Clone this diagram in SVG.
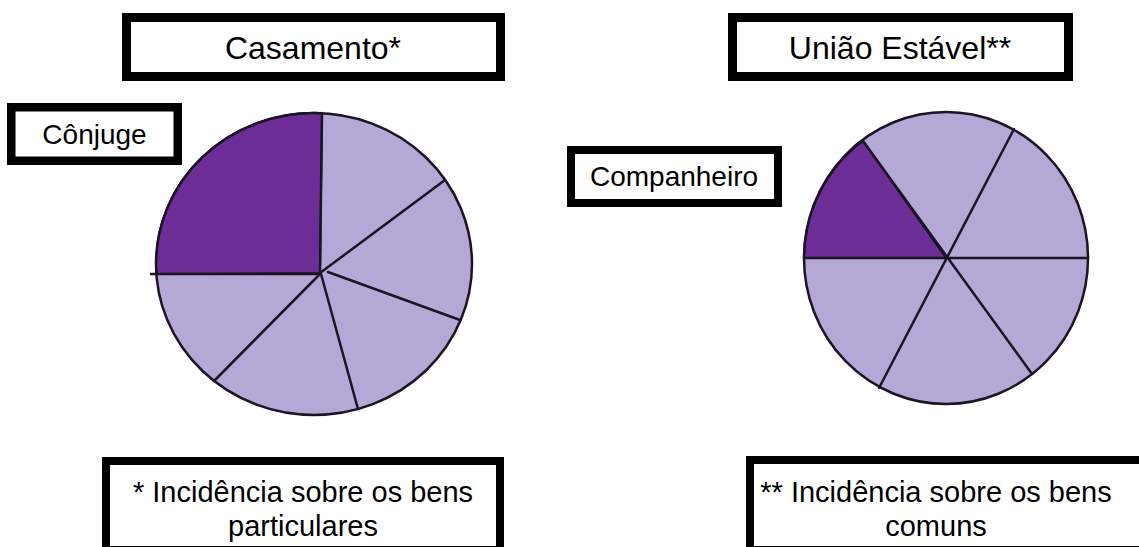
<svg xmlns="http://www.w3.org/2000/svg" width="1139" height="547" viewBox="0 0 1139 547">
<style>
.box{fill:#ffffff;stroke:#000000;}
.t{font-family:"Liberation Sans",Arial,sans-serif;fill:#000000;text-anchor:middle;}
.light{fill:#b3a8d6;}
.dark{fill:#6c2e96;stroke:#1c1424;stroke-width:2;}
.spoke{stroke:#1c1424;stroke-width:2.5;fill:none;stroke-linecap:round;}
.rim{fill:none;stroke:#1c1424;stroke-width:2.5;}
</style>
<rect width="1139" height="547" fill="#ffffff"/>

<g id="title-casamento">
<rect class="box" x="126.5" y="17.5" width="374" height="59" stroke-width="9"/>
<text class="t" x="313" y="59" font-size="32">Casamento*</text>
</g>

<g id="title-uniao">
<rect class="box" x="732.5" y="17.5" width="336" height="59" stroke-width="9"/>
<text class="t" x="900" y="59" font-size="32">União Estável**</text>
</g>

<g id="pie-casamento">
<ellipse class="light" cx="314" cy="264" rx="158" ry="151"/>
<path class="dark" d="M320,273 L322,113 A158,151 0 0 0 156.4,274 Z"/>
<path class="spoke" d="M320,273 L322,113 M320,273 L445,180 M328,272 L460,320 M321,274 L358,409 M319,275 L214,381 M321,274 L151,274"/>
<ellipse class="rim" cx="314" cy="264" rx="158" ry="151"/>
</g>

<g id="pie-uniao">
<ellipse class="light" cx="946" cy="258" rx="142" ry="146"/>
<path class="dark" d="M946,258 L804,258 A142,146 0 0 1 863,141 Z"/>
<path class="spoke" d="M804,258 L1088,258 M863,141 L1032,374 M1014,129 L879,388"/>
<ellipse class="rim" cx="946" cy="258" rx="142" ry="146"/>
</g>

<g id="label-conjuge">
<rect class="box" x="11.25" y="107.25" width="166.5" height="53.5" stroke-width="8.5"/>
<text class="t" x="94.5" y="144" font-size="28">Cônjuge</text>
</g>

<g id="label-companheiro">
<rect class="box" x="571" y="150" width="207" height="53" stroke-width="8"/>
<text class="t" x="674" y="186" font-size="28">Companheiro</text>
</g>

<g id="note-casamento">
<rect class="box" x="106" y="461" width="394" height="89" stroke-width="8"/>
<text class="t" x="303" y="502" font-size="29">* Incidência sobre os bens</text>
<text class="t" x="303" y="536" font-size="29">particulares</text>
</g>

<g id="note-uniao">
<rect class="box" x="750" y="460" width="400" height="90" stroke-width="8"/>
<text class="t" x="936" y="502" font-size="29">** Incidência sobre os bens</text>
<text class="t" x="936" y="536" font-size="29">comuns</text>
</g>

<g id="connectors"></g>
</svg>
